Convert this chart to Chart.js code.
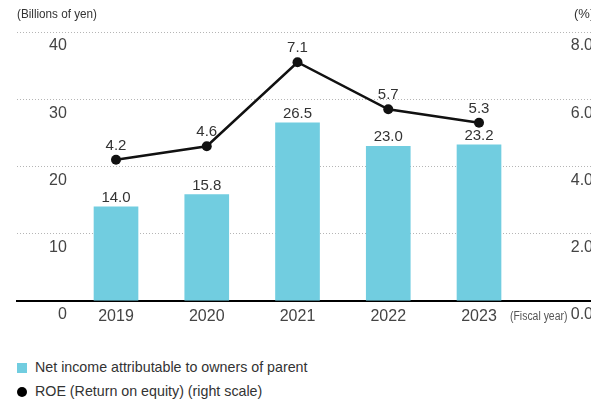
<!DOCTYPE html>
<html>
<head>
<meta charset="utf-8">
<script src="https://cdn.jsdelivr.net/npm/chart.js@4.4.0/dist/chart.umd.min.js"></script>
<style>
  body { margin: 0; width: 591px; height: 405px; background: #fff; position: relative; overflow: hidden;
         font-family: "Liberation Sans", sans-serif; }
  #wrap { position: absolute; left: 0; top: 0; width: 591px; height: 328px; }
  .note { position: absolute; font-size: 13px; color: #333; white-space: nowrap; transform-origin: left center; }
  .legend { position: absolute; left: 17px; font-size: 15px; color: #333; white-space: nowrap; }
  .legend i { display: inline-block; width: 10px; height: 10px; margin-right: 8px; vertical-align: -1px; }
  .legend span { display: inline-block; transform: scaleX(0.95); transform-origin: left center; }
</style>
</head>
<body>
<div id="wrap"><canvas id="grafica"></canvas></div>
<div class="note" style="left:17px; top:6px; transform:scaleX(0.9);">(Billions of yen)</div>
<div class="note" style="left:574px; top:6px;">(%)</div>
<div class="note" style="left:510px; top:309px; font-size:12px; color:#555; transform:scaleX(0.87);">(Fiscal year)</div>
<div class="legend" style="top:358px;"><i style="background:#71cde0;"></i><span>Net income attributable to owners of parent</span></div>
<div class="legend" style="top:382px;"><i style="background:#000; border-radius:50%;"></i><span>ROE (Return on equity) (right scale)</span></div>

<script>
// DATOS
const years = ["2019", "2020", "2021", "2022", "2023"];
const netIncome = [14.0, 15.8, 26.5, 23.0, 23.2];
const roe = [4.2, 4.6, 7.1, 5.7, 5.3];
const leftTicks = [0, 10, 20, 30, 40];
const rightTicks = [0, 2, 4, 6, 8];

// ETIQUETAS DE VALOR
const valueLabels = {
  id: "valueLabels",
  afterDatasetsDraw(chart) {
    const ctx = chart.ctx;
    ctx.save();
    ctx.font = '15px "Liberation Sans"';
    ctx.fillStyle = "#333";
    ctx.textAlign = "center";
    ctx.textBaseline = "alphabetic";
    chart.data.datasets.forEach((ds, di) => {
      chart.getDatasetMeta(di).data.forEach((el, i) => {
        const gap = ds.type === "line" ? 10 : 5;
        ctx.fillText(ds.data[i].y.toFixed(1), el.x, el.y - gap);
      });
    });
    ctx.restore();
  }
};

const tickFont = { family: "Liberation Sans", size: 16 };

// ejes verticales sin ancho ni relleno propio
const sinAncho = (s) => {
  s.width = 0;
  s.paddingTop = 0;
  s.paddingBottom = 0;
};

new Chart(document.getElementById("grafica"), {
  data: {
    datasets: [
      {
        type: "line",
        label: "ROE (Return on equity) (right scale)",
        data: roe.map((v, i) => ({ x: i, y: v })),
        yAxisID: "y1",
        borderColor: "#111",
        borderWidth: 2.5,
        pointRadius: 5,
        pointBackgroundColor: "#111",
        pointBorderWidth: 0,
        order: 0
      },
      {
        type: "bar",
        label: "Net income attributable to owners of parent",
        data: netIncome.map((v, i) => ({ x: i, y: v })),
        yAxisID: "y",
        backgroundColor: "#71cde0",
        barThickness: 44,
        order: 1
      }
    ]
  },
  options: {
    responsive: true,
    maintainAspectRatio: false,
    animation: false,
    layout: { autoPadding: false, padding: { left: 17, right: 0, top: 32, bottom: 4 } },
    plugins: { legend: { display: false }, tooltip: { enabled: false } },
    scales: {
      x: {
        type: "linear",
        offset: false,
        min: -1.091,
        max: 5.234,
        grid: { display: false, offset: false },
        border: { display: true, color: "#000", width: 2 },
        afterBuildTicks: (s) => { s.ticks = years.map((_, i) => ({ value: i })); },
        ticks: { callback: (v) => years[v], font: tickFont, color: "#444", padding: -2, autoSkip: false, maxRotation: 0 }
      },
      y: {
        position: "left",
        min: 0,
        max: 40,
        afterBuildTicks: (s) => { s.ticks = leftTicks.map((v) => ({ value: v })); },
        afterFit: sinAncho,
        grid: { color: "#b5b5b5", lineWidth: 1, drawTicks: false },
        border: { display: false, dash: [1, 2] },
        ticks: { mirror: true, crossAlign: "far", padding: 32, labelOffset: 14, font: tickFont, color: "#444" }
      },
      y1: {
        position: "right",
        min: 0,
        max: 8,
        afterBuildTicks: (s) => { s.ticks = rightTicks.map((v) => ({ value: v })); },
        afterFit: sinAncho,
        grid: { display: false, drawTicks: false },
        border: { display: false },
        ticks: { mirror: true, crossAlign: "far", padding: 2, labelOffset: 14, font: tickFont, color: "#444",
                 callback: (v) => v.toFixed(1) }
      }
    }
  },
  plugins: [valueLabels]
});
</script>
</body>
</html>
